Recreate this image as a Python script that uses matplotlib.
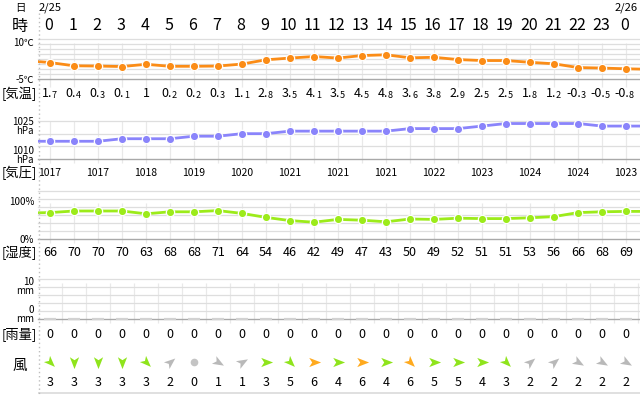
import matplotlib
matplotlib.use('Agg')
import matplotlib.pyplot as plt
import numpy as np
from matplotlib.path import Path
from matplotlib.lines import Line2D

plt.rcParams['font.family'] = ['Noto Sans CJK JP', 'DejaVu Sans']

# ---------------- data ----------------
hours = [str(h) for h in range(24)] + ['0']
dates = ['2/25', '2/26']
date_cols = [0, 24]
temps = [1.7, 0.4, 0.3, 0.1, 1, 0.2, 0.2, 0.3, 1.1, 2.8, 3.5, 4.1, 3.5,
         4.5, 4.8, 3.6, 3.8, 2.9, 2.5, 2.5, 1.8, 1.2, -0.3, -0.5, -0.8]
pressure = [1017, 1017, 1017, 1018, 1018, 1018, 1019, 1019, 1020, 1020,
            1021, 1021, 1021, 1021, 1021, 1022, 1022, 1022, 1023, 1024,
            1024, 1024, 1024, 1023, 1023]
humidity = [66, 70, 70, 70, 63, 68, 68, 71, 64, 54, 46, 42, 49, 47, 43,
            50, 49, 52, 51, 51, 53, 56, 66, 68, 69]
rain = [0] * 25
wind_speed = [3, 3, 3, 3, 3, 2, 0, 1, 1, 3, 5, 6, 4, 6, 4, 6, 5, 5, 4, 3,
              2, 2, 2, 2, 2]
# direction the arrow points (degrees, 0 = east, 90 = north)
wind_dir = [-45, -90, -90, -90, -45, 40, 0, -30, 30, 0, -45, 0, 0, 0, 0,
            -45, 0, 0, 0, -45, 40, 40, -30, -30, -30]
# neighbouring hours just outside the visible window (line ends at the edges)
temp_edges = [2.5, -1.0]
pressure_edges = [1017, 1023]
humidity_edges = [65, 69]

# ---------------- layout helpers ----------------
W, H = 640, 395
X0 = 38
XMAX = (W - 50) / 24.0
fig = plt.figure(figsize=(W / 100, H / 100), dpi=100)


def fx(px):
    return px / W


def fy(py):
    return 1 - py / H


ov = fig.add_axes([fx(X0), 0, 1 - fx(X0), 1])
ov.set_xlim(-0.5, XMAX)
ov.set_ylim(H, 0)
ov.axis('off')
ov.set_zorder(0)


def panel(top, bottom, ylim):
    ax = fig.add_axes([fx(X0), fy(bottom), 1 - fx(X0), (bottom - top) / H])
    ax.set_xlim(-0.5, XMAX)
    ax.set_ylim(*ylim)
    ax.axis('off')
    ax.set_zorder(1)
    return ax


cols = np.arange(25)
ext = np.arange(-1, 26)
GRID = '#dedede'
BASE = '#a9a9a9'
VGRID = '#e9e9e9'

# ---------------- text rows ----------------
fig.text(fx(20), fy(8), '日', ha='center', va='center', fontsize=7.5)
for d, c in zip(dates, date_cols):
    ov.text(c, 8, d, ha='center', va='center', fontsize=8, clip_on=True)
fig.text(fx(20), fy(26), '時', ha='center', va='center', fontsize=11.5)
for i, h in enumerate(hours):
    ov.text(i - 0.05, 26, h, ha='center', va='center', fontsize=11.5)

# ---------------- temperature ----------------
axt = panel(39.3, 79.3, (-5, 11))
for v in range(-3, 12, 2):
    axt.axhline(v, color=GRID, lw=0.9, clip_on=False, zorder=0)
axt.axhline(-5, color=BASE, lw=1, clip_on=False, zorder=0)
ov.vlines(cols, 43, 87, color=VGRID, lw=0.9)
axt.plot(ext, [temp_edges[0]] + temps + [temp_edges[1]], color='#fb8c16',
         lw=2, marker='o', ms=6, mfc='#fb8c16', mec='white', mew=0.9,
         zorder=3)
fig.text(fx(34), fy(42.5), '10℃', ha='right', va='center', fontsize=7)
fig.text(fx(34), fy(80), '-5℃', ha='right', va='center', fontsize=7)
fig.text(fx(19), fy(93.5), '[気温]', ha='center', va='center', fontsize=9.5)
for i, t in enumerate(temps):
    s = ('%g' % t)
    if '.' in s:
        a, b = s.split('.')
        split = i + (3 if t < 0 else 2) / 24.0
        ov.text(split, 93.5, a + '.', ha='right', va='center', fontsize=9)
        ov.text(split, 95, b, ha='left', va='center', fontsize=6.5)
    else:
        ov.text(i, 93.5, s, ha='center', va='center', fontsize=9)

# ---------------- pressure ----------------
axp = panel(121, 159, (1010, 1025))
for v in (1015, 1020, 1025):
    axp.axhline(v, color=GRID, lw=0.9, clip_on=False, zorder=0)
axp.axhline(1010, color=BASE, lw=1, clip_on=False, zorder=0)
ov.vlines(cols, 121, 163, color=VGRID, lw=0.9)
axp.plot(ext, [pressure_edges[0]] + pressure + [pressure_edges[1]],
         color='#8a84fb', lw=2, marker='o', ms=6, mfc='#8a84fb',
         mec='white', mew=0.9, zorder=3)
fig.text(fx(34), fy(122), '1025', ha='right', va='center', fontsize=7)
fig.text(fx(34), fy(131.5), 'hPa', ha='right', va='center', fontsize=7)
fig.text(fx(34), fy(150.5), '1010', ha='right', va='center', fontsize=7)
fig.text(fx(34), fy(160), 'hPa', ha='right', va='center', fontsize=7)
fig.text(fx(19), fy(172.5), '[気圧]', ha='center', va='center', fontsize=9.5)
for i in range(0, 25, 2):
    ov.text(i, 172.5, str(pressure[i]), ha='center', va='center', fontsize=7.5)

# ---------------- humidity ----------------
axh = panel(199, 239, (0, 100))
for v in (20, 40, 60, 80, 100, 120):
    axh.axhline(v, color=GRID, lw=0.9, clip_on=False, zorder=0)
axh.axhline(0, color=BASE, lw=1, clip_on=False, zorder=0)
ov.vlines(cols, 203, 243, color=VGRID, lw=0.9)
axh.plot(ext, [humidity_edges[0]] + humidity + [humidity_edges[1]],
         color='#9ceb1a', lw=2, marker='o', ms=6, mfc='#9ceb1a',
         mec='white', mew=0.9, zorder=3)
fig.text(fx(34), fy(202.5), '100%', ha='right', va='center', fontsize=7)
fig.text(fx(34), fy(240), '0%', ha='right', va='center', fontsize=7)
fig.text(fx(19), fy(252.5), '[湿度]', ha='center', va='center', fontsize=9.5)
for i, v in enumerate(humidity):
    ov.text(i, 252.5, str(v), ha='center', va='center', fontsize=9)

# ---------------- rain ----------------
axr = panel(279, 319, (0, 10))
for v in (2, 4, 6, 8, 10):
    axr.axhline(v, color=GRID, lw=0.9, clip_on=False, zorder=0)
axr.axhline(0, color=BASE, lw=1, clip_on=False, zorder=0)
ov.vlines(cols + 0.5, 283, 323, color=VGRID, lw=0.9)
axr.bar(cols, rain, width=0.5, color='#d2d2d2', edgecolor='#d2d2d2',
        lw=1.6, clip_on=False, zorder=2)
fig.text(fx(34), fy(282), '10', ha='right', va='center', fontsize=7)
fig.text(fx(34), fy(291.5), 'mm', ha='right', va='center', fontsize=7)
fig.text(fx(34), fy(310), '0', ha='right', va='center', fontsize=7)
fig.text(fx(34), fy(319.5), 'mm', ha='right', va='center', fontsize=7)
fig.text(fx(19), fy(334.5), '[雨量]', ha='center', va='center', fontsize=9.5)
for i, v in enumerate(rain):
    ov.text(i, 334.5, '%g' % v, ha='center', va='center', fontsize=9)

# ---------------- wind ----------------
fig.text(fx(20), fy(366), '風', ha='center', va='center', fontsize=10.5)
dart = np.array([[1.0, 0.0], [-0.8, 0.7], [-0.35, 0.0], [-0.8, -0.7],
                 [1.0, 0.0]])
codes = [Path.MOVETO, Path.LINETO, Path.LINETO, Path.LINETO, Path.CLOSEPOLY]


def wind_color(s):
    if s <= 2:
        return '#b9b9b9'
    if s <= 5:
        return '#8fe41c'
    return '#ffaa1e'


for i, (s, d) in enumerate(zip(wind_speed, wind_dir)):
    c = wind_color(s)
    if s == 0:
        ov.plot(i, 362, 'o', color='#c4c4c4', ms=5.5, mew=0)
    else:
        a = np.deg2rad(d)
        R = np.array([[np.cos(a), -np.sin(a)], [np.sin(a), np.cos(a)]])
        verts = dart @ R.T
        ov.plot(i, 362, marker=Path(verts, codes), color=c, ms=9.5, mew=0)
    ov.text(i, 382.5, str(s), ha='center', va='center', fontsize=9)

# ---------------- frame lines ----------------
fig.add_artist(Line2D([fx(38.5), fx(38.5)], [fy(13), fy(395)],
                      color='#bdbdbd', lw=1, ls=(0, (1, 2))))
ov.hlines(392.5, -0.5, XMAX, color='#dadada', lw=1.2)

fig.savefig('out.png', dpi=100)
